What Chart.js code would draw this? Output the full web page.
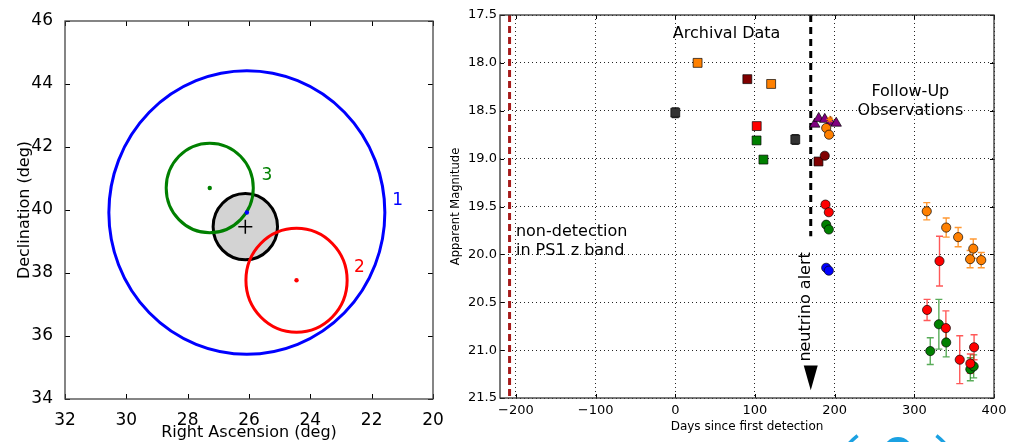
<!DOCTYPE html>
<html lang="en">
<head>
  <meta charset="UTF-8">
  <title>Sky localisation and light curve</title>
  <script src="https://cdn.jsdelivr.net/npm/chart.js"></script>
  <style>
    body {
      margin: 0;
      background: #fff;
      width: 1015px;
      height: 442px;
      overflow: hidden;
      position: relative;
      font-family: "DejaVu Sans", sans-serif;
    }
    #skyBox { position: absolute; left: 0; top: 0; width: 450px; height: 442px; }
    #lightBox { position: absolute; left: 450px; top: 0; width: 565px; height: 442px; }
  </style>
</head>
<body>
<div id="skyBox"><canvas id="skyChart"></canvas></div>
<div id="lightBox"><canvas id="lightChart"></canvas></div>

<script>
  // ---- left panel: error regions on the sky ----
  const regionNames = ['1', '2', '3'];
  const regionRA = [26.07, 24.45, 27.28];
  const regionDec = [39.92, 37.77, 40.70];
  const regionRadius = [4.5, 1.65, 1.42];
  const bestRA = 26.12;
  const bestDec = 39.47;
  const bestRadius = 1.05;
  const raTicks = [32, 30, 28, 26, 24, 22, 20];
  const decTicks = [34, 36, 38, 40, 42, 44, 46];

  // ---- right panel: light curve (days, magnitude, error) ----
  const greySqDays = [0, 150.6];
  const greySqMags = [18.52, 18.80];
  const greySqErr = [0.05, 0.05];
  const orangeSqDays = [28, 120.3];
  const orangeSqMags = [18.0, 18.22];
  const darkredSqDays = [90.4, 179.7];
  const darkredSqMags = [18.17, 19.03];
  const redSqDays = [102.2];
  const redSqMags = [18.66];
  const greenSqDays = [102, 110.6];
  const greenSqMags = [18.81, 19.01];

  const purpleDays = [175, 180, 187.6, 195, 202];
  const purpleMags = [18.64, 18.58, 18.59, 18.62, 18.63];
  const starDays = [194];
  const starMags = [18.59];
  const darkredDays = [187.6];
  const darkredMags = [18.97];
  const orangeDays = [189.4, 193, 315.6, 340, 355, 374, 370, 384];
  const orangeMags = [18.68, 18.75, 19.55, 19.72, 19.82, 19.94, 20.05, 20.06];
  const orangeErr = [0.02, 0.02, 0.09, 0.10, 0.10, 0.10, 0.09, 0.08];
  const greenDays = [189.4, 192.7, 320, 330.8, 340, 370.3, 374.5];
  const greenMags = [19.69, 19.74, 21.01, 20.73, 20.92, 21.20, 21.17];
  const greenErr = [0.02, 0.02, 0.14, 0.26, 0.15, 0.12, 0.12];
  const redDays = [188.5, 192.7, 331.6, 316, 339.6, 357, 370.3, 375];
  const redMags = [19.48, 19.56, 20.07, 20.58, 20.77, 21.10, 21.14, 20.97];
  const redErr = [0.02, 0.02, 0.26, 0.11, 0.18, 0.25, 0.10, 0.13];
  const blueDays = [189.4, 192.7];
  const blueMags = [20.14, 20.17];

  const nonDetectionDay = -208;
  const alertDay = 170;
  const dayTicks = [-200, -100, 0, 100, 200, 300, 400];
  const magTicks = [17.5, 18.0, 18.5, 19.0, 19.5, 20.0, 20.5, 21.0, 21.5];

  Chart.defaults.font.family = '"DejaVu Sans", sans-serif';
  Chart.defaults.color = '#000';
  Chart.defaults.animation = false;

  const regionColors = ['#0000ff', '#ff0000', '#008000'];
  const labelRA = [21.15, 22.4, 25.42];
  const labelDec = [40.29, 38.16, 41.08];

  // inward ticks on all four sides plus the frame, matplotlib style
  const frameTicks = {
    id: 'frameTicks',
    afterDatasetsDraw(chart, args, opts) {
      const { ctx, chartArea: a, scales } = chart;
      const len = opts.len;
      ctx.save();
      ctx.strokeStyle = '#000';
      ctx.lineWidth = 1;
      scales.x.ticks.forEach(t => {
        const px = Math.round(scales.x.getPixelForValue(t.value)) + 0.5;
        ctx.beginPath();
        ctx.moveTo(px, a.bottom); ctx.lineTo(px, a.bottom - len);
        ctx.moveTo(px, a.top); ctx.lineTo(px, a.top + len);
        ctx.stroke();
      });
      scales.y.ticks.forEach(t => {
        const py = Math.round(scales.y.getPixelForValue(t.value)) + 0.5;
        ctx.beginPath();
        ctx.moveTo(a.left, py); ctx.lineTo(a.left + len, py);
        ctx.moveTo(a.right, py); ctx.lineTo(a.right - len, py);
        ctx.stroke();
      });
      ctx.strokeStyle = opts.frameColor;
      ctx.lineWidth = 1.3;
      ctx.strokeRect(a.left, a.top, a.right - a.left, a.bottom - a.top);
      ctx.restore();
    }
  };

  // circles in data units
  const skyCircles = {
    id: 'skyCircles',
    beforeDatasetsDraw(chart) {
      const { ctx, scales: { x, y } } = chart;
      function ring(ra, dec, r, stroke, fill) {
        const cx = x.getPixelForValue(ra), cy = y.getPixelForValue(dec);
        const rx = Math.abs(x.getPixelForValue(ra + r) - cx);
        const ry = Math.abs(y.getPixelForValue(dec + r) - cy);
        ctx.beginPath();
        ctx.ellipse(cx, cy, rx, ry, 0, 0, 2 * Math.PI);
        if (fill) { ctx.fillStyle = fill; ctx.fill(); }
        ctx.lineWidth = 3;
        ctx.strokeStyle = stroke;
        ctx.stroke();
      }
      ctx.save();
      ring(bestRA, bestDec, bestRadius, '#000', '#d3d3d3');
      regionNames.forEach((n, i) => ring(regionRA[i], regionDec[i], regionRadius[i], regionColors[i]));
      ctx.font = '17px "DejaVu Sans"';
      ctx.textAlign = 'center';
      ctx.textBaseline = 'middle';
      regionNames.forEach((n, i) => {
        ctx.fillStyle = regionColors[i];
        ctx.fillText(n, x.getPixelForValue(labelRA[i]), y.getPixelForValue(labelDec[i]));
      });
      ctx.restore();
    }
  };

  new Chart(document.getElementById('skyChart'), {
    type: 'scatter',
    data: {
      datasets: [
        {
          data: [{ x: bestRA, y: bestDec }],
          pointStyle: 'cross', pointRadius: 7, borderColor: '#000', borderWidth: 1.5
        },
        {
          data: regionNames.map((n, i) => ({ x: regionRA[i], y: regionDec[i] })),
          pointRadius: 2.2, borderWidth: 0,
          backgroundColor: regionColors
        }
      ]
    },
    options: {
      responsive: true,
      maintainAspectRatio: false,
      layout: { padding: { top: 21, right: 17, left: 0, bottom: 0 } },
      plugins: { legend: { display: false }, tooltip: { enabled: false }, frameTicks: { len: 5, frameColor: '#444' } },
      scales: {
        x: {
          type: 'linear', min: 20, max: 32, reverse: true,
          afterBuildTicks: s => { s.ticks = raTicks.slice().sort((a, b) => a - b).map(v => ({ value: v })); },
          afterFit: s => { s.height = 43; },
          grid: { display: false },
          border: { display: false },
          ticks: { font: { size: 17 }, padding: 3, maxRotation: 0, autoSkip: false },
          title: { display: true, text: 'Right Ascension (deg)', font: { size: 16 }, padding: 0 }
        },
        y: {
          type: 'linear', min: 34, max: 46,
          afterBuildTicks: s => { s.ticks = decTicks.map(v => ({ value: v })); },
          afterFit: s => { s.width = 65; },
          grid: { display: false },
          border: { display: false },
          ticks: { font: { size: 17 }, padding: 4, autoSkip: false },
          title: { display: true, text: 'Declination (deg)', font: { size: 16 }, padding: { top: 15 } }
        }
      }
    },
    plugins: [skyCircles, frameTicks]
  });

  // ---- light curve ----
  function pts(days, mags) {
    return days.map((d, i) => ({ x: d, y: mags[i] }));
  }
  function marks(days, mags, errs, color, style, radius, errColor) {
    return {
      data: pts(days, mags),
      yErr: errs,
      errColor: errColor,
      pointStyle: style,
      pointRadius: radius,
      backgroundColor: color,
      borderColor: 'rgba(0,0,0,0.85)',
      borderWidth: 0.8
    };
  }
  function vline(day, from, to, color, dash) {
    return {
      data: [{ x: day, y: from }, { x: day, y: to }],
      showLine: true, pointRadius: 0,
      borderColor: color, borderWidth: 3, borderDash: dash
    };
  }

  const lightDatasets = [
    vline(nonDetectionDay, 17.5, 21.5, '#a61b1b', [7, 4]),
    vline(alertDay, 17.5, 19.81, '#000', [7, 5]),
    marks(greySqDays, greySqMags, greySqErr, '#333333', 'rect', 6.3, '#333333'),
    marks(orangeSqDays, orangeSqMags, null, '#ff8000', 'rect', 6.3),
    marks(darkredSqDays, darkredSqMags, null, '#800000', 'rect', 6.3),
    marks(redSqDays, redSqMags, null, '#ff0000', 'rect', 6.3),
    marks(greenSqDays, greenSqMags, null, '#008000', 'rect', 6.3),
    marks(purpleDays, purpleMags, null, '#800080', 'triangle', 6),
    marks(darkredDays, darkredMags, null, '#800000', 'circle', 4.6),
    marks(orangeDays, orangeMags, orangeErr, '#ff8000', 'circle', 4.6, 'rgba(255,128,0,0.8)'),
    marks(greenDays, greenMags, greenErr, '#008000', 'circle', 4.6, 'rgba(0,128,0,0.65)'),
    marks(redDays, redMags, redErr, '#ff0000', 'circle', 4.6, 'rgba(255,0,0,0.65)'),
    marks(blueDays, blueMags, null, '#0000ff', 'circle', 4.6),
    { data: pts(starDays, starMags), pointStyle: 'star', pointRadius: 3.5, borderColor: '#ff8000', borderWidth: 1.2 }
  ];
  lightDatasets.forEach((d, i) => { d.order = -i; });

  const lightExtras = {
    id: 'lightExtras',
    beforeDatasetsDraw(chart) {
      const { ctx, scales: { x, y } } = chart;
      ctx.save();
      ctx.lineWidth = 1.4;
      chart.data.datasets.forEach(ds => {
        if (!ds.yErr) return;
        ctx.strokeStyle = ds.errColor;
        ds.data.forEach((p, j) => {
          const px = x.getPixelForValue(p.x);
          const y1 = y.getPixelForValue(p.y - ds.yErr[j]);
          const y2 = y.getPixelForValue(p.y + ds.yErr[j]);
          ctx.beginPath();
          ctx.moveTo(px, y1); ctx.lineTo(px, y2);
          ctx.moveTo(px - 3.5, y1); ctx.lineTo(px + 3.5, y1);
          ctx.moveTo(px - 3.5, y2); ctx.lineTo(px + 3.5, y2);
          ctx.stroke();
        });
      });
      ctx.restore();
    },
    afterDatasetsDraw(chart) {
      const { ctx, scales: { x, y } } = chart;
      ctx.save();
      // arrow head of the neutrino alert
      const ax = x.getPixelForValue(alertDay);
      const top = y.getPixelForValue(21.16);
      const tip = y.getPixelForValue(21.42);
      ctx.fillStyle = '#000';
      ctx.beginPath();
      ctx.moveTo(ax - 7, top); ctx.lineTo(ax + 7, top); ctx.lineTo(ax, tip);
      ctx.closePath();
      ctx.fill();

      ctx.font = '16px "DejaVu Sans"';
      ctx.fillStyle = '#000';
      ctx.textBaseline = 'alphabetic';
      ctx.textAlign = 'center';
      ctx.fillText('Archival Data', x.getPixelForValue(64.4), y.getPixelForValue(17.744));
      ctx.fillText('Follow-Up', x.getPixelForValue(295), y.getPixelForValue(18.346));
      ctx.fillText('Observations', x.getPixelForValue(295), y.getPixelForValue(18.548));
      ctx.textAlign = 'left';
      ctx.fillText('non-detection', x.getPixelForValue(-200), y.getPixelForValue(19.808));
      ctx.fillText('in PS1 z band', x.getPixelForValue(-200), y.getPixelForValue(20.01));

      ctx.translate(ax - 1, y.getPixelForValue(21.12));
      ctx.rotate(-Math.PI / 2);
      ctx.fillText('neutrino alert', 0, 0);
      ctx.restore();
    },
    afterDraw(chart) {
      // cut-off logo at the bottom edge
      const { ctx } = chart;
      ctx.save();
      ctx.fillStyle = '#1ba1e2';
      ctx.strokeStyle = '#1ba1e2';
      ctx.beginPath();
      ctx.arc(448, 452, 15, 0, 2 * Math.PI);
      ctx.fill();
      ctx.lineWidth = 3.5;
      ctx.beginPath();
      ctx.arc(447, 486, 64, -139 * Math.PI / 180, -128 * Math.PI / 180);
      ctx.stroke();
      ctx.beginPath();
      ctx.arc(447, 486, 64, -52 * Math.PI / 180, -41 * Math.PI / 180);
      ctx.stroke();
      ctx.restore();
    }
  };

  new Chart(document.getElementById('lightChart'), {
    type: 'scatter',
    data: { datasets: lightDatasets },
    options: {
      responsive: true,
      maintainAspectRatio: false,
      layout: { padding: { top: 15, right: 21, left: 0, bottom: 0 } },
      plugins: { legend: { display: false }, tooltip: { enabled: false }, frameTicks: { len: 4, frameColor: '#333' } },
      scales: {
        x: {
          type: 'linear', min: -220, max: 400,
          afterBuildTicks: s => { s.ticks = dayTicks.map(v => ({ value: v })); },
          afterFit: s => { s.height = 44; },
          grid: { color: 'rgba(0,0,0,0.85)', lineWidth: 1, drawTicks: false },
          border: { display: false, dash: [1, 3] },
          ticks: {
            font: { size: 13 }, padding: 5, maxRotation: 0, autoSkip: false,
            callback: v => (v < 0 ? '\u2212' + Math.abs(v) : String(v))
          },
          title: { display: true, text: 'Days since first detection', font: { size: 12 }, padding: { bottom: 8 } }
        },
        y: {
          type: 'linear', min: 17.5, max: 21.5, reverse: true,
          afterBuildTicks: s => { s.ticks = magTicks.map(v => ({ value: v })); },
          afterFit: s => { s.width = 50; },
          grid: { color: 'rgba(0,0,0,0.85)', lineWidth: 1, drawTicks: false },
          border: { display: false, dash: [1, 3] },
          ticks: { font: { size: 13 }, padding: 3, autoSkip: false, callback: v => Number(v).toFixed(1) },
          title: { display: true, text: 'Apparent Magnitude', font: { size: 11.5, lineHeight: 1 }, padding: 0 }
        }
      }
    },
    plugins: [lightExtras, frameTicks]
  });
</script>
</body>
</html>
